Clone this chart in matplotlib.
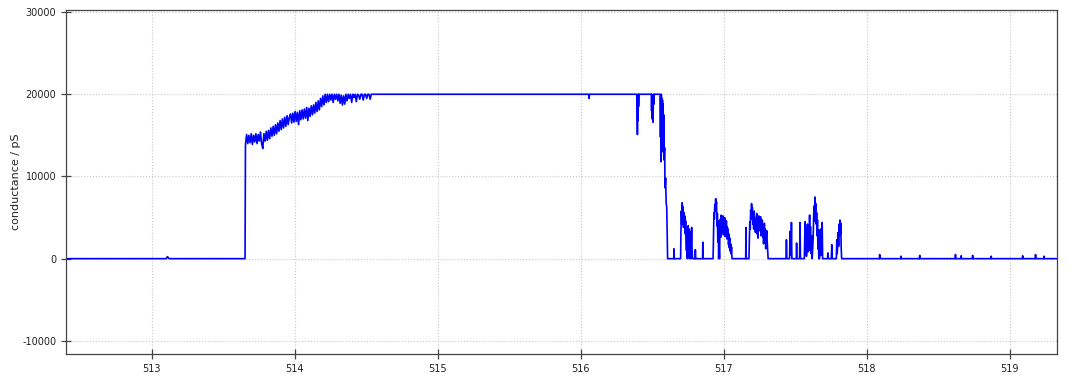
import numpy as np
import matplotlib.pyplot as plt

plt.rcParams['axes.unicode_minus'] = False

# baseline before the pore opens (time / s, conductance / pS)
base1_t = [512.40, 513.100, 513.110, 513.120, 513.652]
base1_g = [0, 0, 250, 0, 0]

# noisy rise after the step, sampled evenly between these times
rise_start, rise_end = 513.655, 514.535
rise_g = [
    13900, 15100, 14000, 15000, 14100, 15200, 13900, 15000, 14200, 15200,
    14000, 15100, 14300, 15400, 14000, 13400, 15200, 14300, 15500, 14400,
    15600, 14600, 15900, 14900, 16100, 15000, 16300, 15200, 16500, 15500,
    16800, 15700, 17000, 15900, 17200, 16100, 17400, 16300, 17200, 17600,
    16500, 17700, 16600, 17900, 16700, 17800, 16300, 18000, 16900, 18100,
    17000, 18200, 17100, 18400, 16800, 18300, 17300, 18600, 17500, 18700,
    17700, 19000, 17900, 19200, 18100, 19500, 18500, 19800, 18700, 20000,
    19000, 20000, 19100, 20000, 19300, 20000, 19000, 20000, 19400, 20000,
    19200, 20000, 18900, 19900, 18700, 19800, 18800, 20000, 19200, 20000,
    19500, 20000, 19000, 20000, 19600, 20000, 19100, 20000, 19900, 19400,
    20000, 20000, 19300, 20000, 20000, 19500, 20000, 20000, 19400, 20000,
]

# saturated plateau and the collapse
top_t = [514.540, 516.055, 516.058, 516.061, 516.385, 516.392, 516.394, 516.396,
         516.398, 516.400, 516.402, 516.404, 516.406, 516.493, 516.495, 516.497,
         516.499, 516.502, 516.505, 516.508, 516.511, 516.513, 516.555, 516.557,
         516.559, 516.561, 516.563, 516.565, 516.567, 516.569, 516.571, 516.573,
         516.575, 516.577, 516.580, 516.583, 516.586, 516.589, 516.593, 516.597,
         516.601, 516.604, 516.607]
top_g = [20000, 20000, 19500, 20000, 20000, 20000, 17500, 15100,
         19800, 16800, 20000, 18500, 20000, 20000, 18000, 20000,
         17000, 19500, 16600, 20000, 18800, 20000, 20000, 14800,
         19800, 11800, 20000, 15600, 19500, 13000, 19300, 15800,
         18800, 13400, 17500, 12000, 13500, 8600, 9800, 6800,
         6200, 3000, 0]

# flickering bursts after the collapse
burst_t = [
    516.608, 516.650, 516.651, 516.653, 516.698, 516.700, 516.703, 516.706, 516.709, 516.712,
    516.715, 516.718, 516.721, 516.724, 516.727, 516.730, 516.733, 516.736, 516.739, 516.742,
    516.745, 516.748, 516.751, 516.754, 516.757, 516.760, 516.763, 516.766, 516.769, 516.772,
    516.775, 516.778, 516.781, 516.800, 516.801, 516.803, 516.852, 516.853, 516.855, 516.925,
    516.928, 516.931, 516.934, 516.937, 516.940, 516.943, 516.946, 516.949, 516.952, 516.955,
    516.958, 516.961, 516.964, 516.967, 516.970, 516.973, 516.976, 516.979, 516.982, 516.985,
    516.988, 516.991, 516.994, 516.997, 517.000, 517.003, 517.006, 517.009, 517.012, 517.015,
    517.018, 517.021, 517.024, 517.027, 517.030, 517.033, 517.036, 517.039, 517.042, 517.045,
    517.048, 517.051, 517.054, 517.057, 517.153, 517.155, 517.157, 517.176, 517.179, 517.182,
    517.185, 517.188, 517.191, 517.194, 517.197, 517.200, 517.203, 517.206, 517.209, 517.212,
    517.215, 517.218, 517.221, 517.224, 517.227, 517.230, 517.233, 517.236, 517.239, 517.242,
    517.245, 517.248, 517.251, 517.254, 517.257, 517.260, 517.263, 517.266, 517.269, 517.272,
    517.275, 517.278, 517.281, 517.284, 517.287, 517.290, 517.293, 517.296, 517.300, 517.305,
    517.310, 517.435, 517.438, 517.441, 517.460, 517.463, 517.466, 517.470, 517.473, 517.476,
    517.507, 517.509, 517.511, 517.530, 517.533, 517.536, 517.563, 517.566, 517.569, 517.572,
    517.575, 517.578, 517.582, 517.585, 517.588, 517.592, 517.596, 517.600, 517.603, 517.606,
    517.610, 517.614, 517.618, 517.625, 517.628, 517.631, 517.634, 517.637, 517.640, 517.643,
    517.646, 517.649, 517.652, 517.655, 517.658, 517.661, 517.664, 517.670, 517.673, 517.676,
    517.679, 517.682, 517.685, 517.688, 517.691, 517.725, 517.728, 517.731, 517.752, 517.755,
    517.758, 517.787, 517.790, 517.793, 517.796, 517.800, 517.803, 517.806, 517.809, 517.812,
    517.815, 517.818, 517.821, 517.824,
]
burst_g = [
    0, 0, 1200, 0, 0, 3000, 5800, 4200, 6800, 5500,
    6300, 3800, 5600, 4400, 5200, 3000, 4600, 2500, 1000, 3800,
    0, 2800, 4000, 1500, 3600, 0, 2400, 3300, 0, 2100,
    3800, 1200, 0, 0, 1100, 0, 0, 2000, 0, 0,
    3000, 5600, 4800, 6600, 5800, 7300, 6400, 6900, 4000, 5500,
    2000, 4600, 0, 1800, 0, 3500, 4800, 2600, 5300, 3300,
    4400, 3600, 5200, 2900, 4800, 3100, 5000, 2700, 4400, 3300,
    4600, 2400, 3900, 2700, 3600, 1700, 3000, 1300, 2500, 900,
    1800, 600, 1400, 0, 0, 3800, 0, 0, 2600, 4500,
    3600, 5900, 4800, 6700, 5600, 6200, 4200, 5400, 3600, 5800,
    3900, 5000, 3200, 4700, 3800, 5500, 3000, 4600, 2500, 4200,
    5200, 3400, 4800, 3600, 5100, 2800, 4400, 3100, 4700, 2600,
    4000, 1800, 3500, 4300, 2000, 3600, 1200, 2400, 3400, 1500,
    0, 0, 2300, 0, 0, 3300, 400, 1000, 4400, 0,
    0, 1900, 0, 0, 4400, 0, 0, 2600, 4500, 1500,
    3800, 300, 3000, 4200, 800, 4100, 2000, 5300, 1000, 3900,
    600, 2800, 0, 2500, 5000, 6400, 4600, 7500, 5800, 6700,
    4200, 5600, 2800, 4700, 1200, 3500, 0, 0, 2300, 3600,
    400, 2900, 1300, 4400, 0, 0, 700, 0, 0, 1700,
    0, 0, 2300, 600, 1800, 3200, 1500, 4200, 2800, 4700,
    3000, 4300, 1200, 0,
]

# baseline after the bursts, with small blips
base2_t = [517.830, 518.088, 518.090, 518.092, 518.238, 518.240, 518.242, 518.368,
           518.370, 518.372, 518.618, 518.620, 518.622, 518.658, 518.660, 518.662,
           518.738, 518.740, 518.742, 518.868, 518.870, 518.872, 519.088, 519.090,
           519.092, 519.178, 519.180, 519.182, 519.238, 519.240, 519.242, 519.35]
base2_g = [0, 0, 500, 0, 0, 300, 0, 0,
           400, 0, 0, 500, 0, 0, 350, 0,
           0, 400, 0, 0, 300, 0, 0, 350,
           0, 0, 500, 0, 0, 300, 0, 0]

rise_t = np.linspace(rise_start, rise_end, len(rise_g))
t = np.concatenate([base1_t, rise_t, top_t, burst_t, base2_t])
g = np.concatenate([base1_g, rise_g, top_g, burst_g, base2_g])

fig = plt.figure(figsize=(10.68, 3.75), dpi=100)
ax = fig.add_axes([0.0618, 0.056, 0.9279, 0.9173])
ax.plot(t, g, color='#0000ff', linewidth=1.2)

ax.set_xlim(512.40, 519.33)
ax.set_ylim(-11600, 30250)
ax.set_xticks([513, 514, 515, 516, 517, 518, 519])
ax.set_yticks([-10000, 0, 10000, 20000, 30000])
ax.grid(True, linestyle=':', color='#c8c8c8', linewidth=0.8)
ax.tick_params(direction='inout', length=7, width=0.9, colors='#444444',
               labelsize=7, labelcolor='#222222')
for s in ax.spines.values():
    s.set_color('#444444')
    s.set_linewidth(0.9)

ax.set_ylabel('conductance / pS', fontsize=8, color='#222222')
ax.yaxis.set_label_coords(-0.045, 0.5)
ax.set_xlabel('time / s', fontsize=8, color='#222222', labelpad=3)

fig.savefig('out.png', dpi=100)
